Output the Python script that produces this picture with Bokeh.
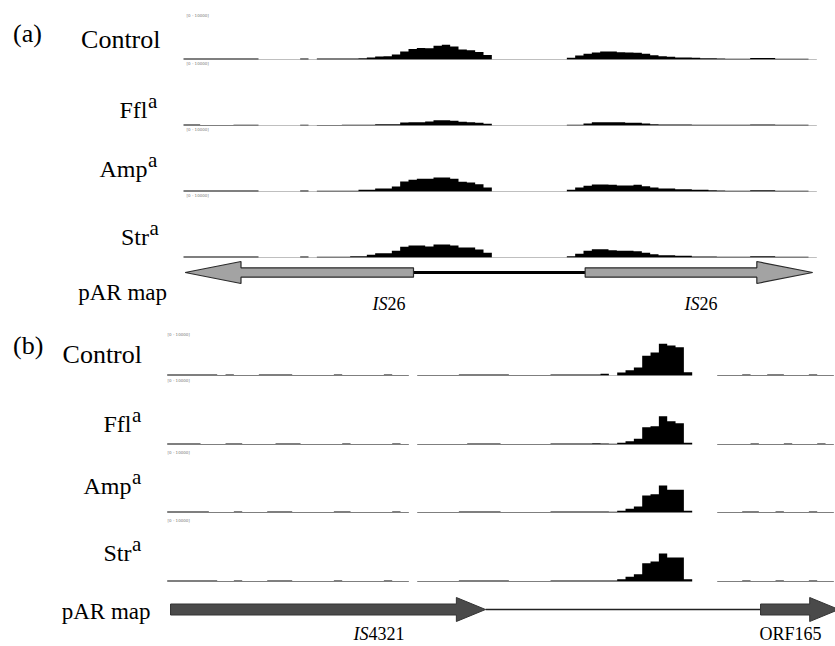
from bokeh.plotting import figure
from bokeh.models import Range1d, Label
from bokeh.embed import file_html
from bokeh.resources import INLINE

# ---------------- data ----------------
BIN_BP = 100           # bp per coverage bin
TRACK_MAX = 10000      # data range of every coverage track: [0 - 10000]

samples = ["Control", "Ffl", "Amp", "Str"]

# panel (a): IS26 region, coverage per 100-bp bin
a_cov = {
    "Control": [200, 200, 200, 200, 200, 200, 200, 200, 200, 60, 60, 60, 60, 60, 200, 60, 200, 200, 200, 200, 200,
                260, 400, 600, 660, 1000, 1600, 2100, 2300, 2260, 2740, 2940, 2600, 2000, 1860, 1500, 900,
                60, 60, 60, 60, 60, 60, 60, 60, 60,
                340, 800, 1140, 1400, 1600, 1600, 1460, 1400, 1340, 1140, 860, 660, 540, 400, 400, 340, 260, 260,
                200, 140, 140, 140, 300, 300, 300, 140, 140, 140, 140, 60],
    "Ffl": [200, 200, 80, 80, 80, 80, 140, 140, 140, 60, 60, 60, 60, 60, 140, 60, 80, 80, 80,
            140, 140, 140, 140, 260, 260, 260, 600, 660, 660, 800, 1060, 1060, 940, 740, 660, 540, 340,
            60, 60, 60, 60, 60, 60, 60, 60, 60,
            140, 140, 400, 660, 660, 660, 660, 540, 540, 400, 260, 200, 200, 200, 200,
            140, 140, 140, 140, 140, 140, 140, 200, 200, 200, 140, 140, 140, 140, 60],
    "Amp": [200, 200, 200, 200, 200, 200, 200, 200, 200, 60, 60, 60, 60, 60, 200, 60, 140, 140, 140,
            140, 140, 340, 340, 600, 600, 1000, 2000, 2340, 2540, 2540, 2800, 2800, 2540, 1940, 1800, 1460, 800,
            60, 60, 60, 60, 60, 60, 60, 60, 60,
            340, 800, 1140, 1400, 1400, 1340, 1200, 1200, 1340, 1060, 800, 600, 600, 460, 460, 340, 340, 260,
            200, 140, 140, 140, 260, 260, 260, 140, 140, 140, 140, 60],
    "Str": [200, 200, 200, 200, 200, 200, 200, 200, 200, 60, 60, 60, 60, 60, 200, 60, 140, 140, 140,
            140, 260, 260, 540, 860, 860, 1340, 2140, 2400, 2400, 2200, 2600, 2600, 2400, 2000, 2000, 1600, 940,
            60, 60, 60, 60, 60, 60, 60, 60, 60,
            260, 740, 1340, 1660, 1660, 1460, 1340, 1340, 1260, 940, 660, 460, 460, 340, 340, 200, 200, 200,
            140, 140, 140, 140, 260, 260, 260, 140, 140, 140, 140, 60],
}

# panel (b): IS4321 region, coverage per 100-bp bin
b_cov = {
    "Control": [200, 200, 200, 200, 200, 200, 80, 200, 80, 80, 80, 200, 200, 200, 200, 80, 80, 80, 80, 80,
                200, 80, 80, 80, 80, 80, 200, 80, 80, 0, 80, 80, 80, 80, 80, 200, 200, 200, 200, 200, 200,
                80, 80, 80, 80, 80, 200, 200, 200, 200, 200, 200,
                340, 60, 600, 1060, 1600, 3940, 4600, 6340, 6000, 5660, 660, 0, 0, 0,
                80, 80, 80, 200, 80, 80, 200, 200, 80, 80, 80, 200, 80, 80],
    "Ffl": [200, 200, 200, 200, 80, 80, 80, 200, 200, 80, 80, 80, 80, 200, 200, 200, 80, 80, 80, 80, 80,
            200, 80, 80, 80, 80, 80, 200, 80, 0, 80, 80, 80, 80, 80, 80, 200, 200, 200, 200,
            80, 80, 80, 80, 80, 80, 200, 200, 200, 200, 200,
            260, 200, 140, 340, 660, 1140, 3460, 3660, 5660, 4660, 4260, 340, 0, 0, 0,
            80, 80, 80, 80, 200, 80, 80, 80, 200, 80, 80, 80, 200, 80],
    "Amp": [200, 200, 200, 200, 200, 80, 80, 80, 200, 80, 80, 80, 200, 200, 200, 80, 80, 80, 80, 80,
            200, 200, 80, 80, 80, 80, 80, 200, 80, 0, 80, 80, 80, 80, 80, 200, 200, 200, 200, 200,
            80, 80, 80, 80, 80, 80, 200, 200, 200, 200, 200, 200, 200,
            140, 340, 740, 1200, 3400, 3660, 5400, 4540, 4540, 340, 0, 0, 0,
            80, 80, 80, 200, 200, 80, 80, 200, 80, 80, 80, 200, 80, 80],
    "Str": [200, 200, 200, 200, 200, 200, 80, 80, 200, 80, 80, 80, 200, 200, 200, 80, 80, 80, 80, 80,
            200, 80, 80, 80, 80, 80, 200, 80, 80, 0, 80, 80, 80, 80, 80, 200, 200, 200, 200, 200, 200,
            80, 80, 80, 80, 80, 200, 200, 200, 200, 200, 200, 200, 200,
            460, 940, 1460, 3660, 4000, 5600, 4800, 4800, 460, 0, 0, 0,
            80, 80, 80, 200, 80, 80, 80, 200, 80, 80, 80, 200, 80, 80],
}

# plasmid maps: (name, start bp, end bp, strand)
a_features_name = ["IS26", "IS26"]
a_features_start = [20, 4820]
a_features_end = [2760, 7550]
a_features_strand = [-1, 1]

b_features_name = ["IS4321", "ORF165"]
b_features_start = [40, 7120]
b_features_end = [3820, 8060]
b_features_strand = [1, 1]

# ---------------- layout (page pixel geometry) ----------------
W, H = 835, 646
PX_PER_BP = 1 / 12.0
A_X0, B_X0 = 183.0, 166.7          # page x of bp 0 for panel a / b
A_BASE = [59, 125, 191, 257]      # baselines of coverage tracks, panel a
B_BASE = [375, 444, 512, 581]     # panel b
TRACK_PX = 50                     # pixels for TRACK_MAX

p = figure(width=W, height=H, x_range=Range1d(0, W), y_range=Range1d(H, 0),
           output_backend="svg", toolbar_location=None, min_border=0,
           x_axis_type=None, y_axis_type=None)
p.grid.visible = False
p.outline_line_color = None
p.background_fill_color = "white"
p.border_fill_color = "white"

bp_per_px = 1 / PX_PER_BP
p.extra_x_ranges = {
    "xa": Range1d((0 - A_X0) * bp_per_px, (W - A_X0) * bp_per_px),
    "xb": Range1d((0 - B_X0) * bp_per_px, (W - B_X0) * bp_per_px),
}
per_px = TRACK_MAX / TRACK_PX
yr = {}
for tag, bases in (("a", A_BASE), ("b", B_BASE)):
    for i, yb in enumerate(bases):
        yr[f"y{tag}{i}"] = Range1d((yb - H) * per_px, yb * per_px)
p.extra_y_ranges = yr


def step_outline(vals):
    xs, ys = [0], [0]
    for i, v in enumerate(vals):
        xs += [i * BIN_BP, (i + 1) * BIN_BP]
        ys += [v, v]
    xs.append(len(vals) * BIN_BP)
    ys.append(0)
    return xs, ys


for tag, cov in (("a", a_cov), ("b", b_cov)):
    for i, s in enumerate(samples):
        xs, ys = step_outline(cov[s])
        p.patch(xs, ys, x_range_name="x" + tag, y_range_name=f"y{tag}{i}",
                fill_color="black", line_color=None)

# data-range labels of each track
rng_pos = {"a": (186, [15, 63, 129, 195]), "b": (167, [334, 380, 452, 520])}
for tag, (lx, ys) in rng_pos.items():
    for yy in ys:
        p.add_layout(Label(x=lx, y=yy, text="[0 - 10000]", text_font="DejaVu Sans",
                           text_font_size="4px", text_color="#777777",
                           text_baseline="middle", text_align="left"))


def arrow(start, end, strand, head, yc, sh, hh):
    if strand > 0:
        hb = end - head
        xs = [start, hb, hb, end, hb, hb, start]
    else:
        hb = start + head
        xs = [end, hb, hb, start, hb, hb, end]
    ys = [yc - sh, yc - sh, yc - hh, yc, yc + hh, yc + sh, yc + sh]
    return xs, ys


# panel a map
A_MAP_Y = 272
p.line([a_features_end[0], a_features_start[1]], [A_MAP_Y, A_MAP_Y], x_range_name="xa",
       line_color="black", line_width=3)
for st, en, sd in zip(a_features_start, a_features_end, a_features_strand):
    xs, ys = arrow(st, en, sd, 670, A_MAP_Y, 4.7, 11)
    p.patch(xs, ys, x_range_name="xa", fill_color="#a3a3a3", line_color="#2b2b2b", line_width=1.2)

# panel b map
B_MAP_Y = 609
p.line([b_features_end[0], b_features_start[1]], [B_MAP_Y, B_MAP_Y], x_range_name="xb",
       line_color="#222222", line_width=1.5)
for st, en, sd in zip(b_features_start, b_features_end, b_features_strand):
    xs, ys = arrow(st, en, sd, 350, B_MAP_Y, 5.5, 12)
    p.patch(xs, ys, x_range_name="xb", fill_color="#4a4a4a", line_color="#333333", line_width=1)

SERIF = "Liberation Serif"


def lab(x, y, text, size="24px", align="left", style="normal", color="black"):
    p.add_layout(Label(x=x, y=y, text=text, text_font=SERIF, text_font_size=size,
                       text_align=align, text_baseline="alphabetic",
                       text_font_style=style, text_color=color))


# panel tags
lab(12.5, 33, "(a)", size="26px")
lab(12.5, 345, "(b)", size="26px")

# sample labels (main word right edge, baseline)
sup = ["", "a", "a", "a"]
a_lab = [(160, 39), (147, 109), (147, 168), (148.5, 236)]
b_lab = [(141.5, 354), (131, 423), (131, 485), (131, 552)]
for lab_pos in (a_lab, b_lab):
    for (lx, ly), s, sp in zip(lab_pos, samples, sup):
        lab(lx, ly, s, size="26px" if s == "Control" else "24px", align="right")
        if sp:
            lab(lx + 0.5, ly - 9, sp, size="21px")

lab(166.5, 292, "pAR map", size="23px", align="right")
lab(150, 611, "pAR map", size="23px", align="right")

# feature names
for cx, y, it, rest in ((387, 303, "IS", "26"), (699, 303, "IS", "26"), (368, 633, "IS", "4321")):
    lab(cx, y, it, size="18px", align="right", style="italic")
    lab(cx, y, rest, size="18px", align="left")
lab(790, 633, "ORF165", size="18px", align="center")

open("out.html", "w").write(file_html(p, INLINE))
